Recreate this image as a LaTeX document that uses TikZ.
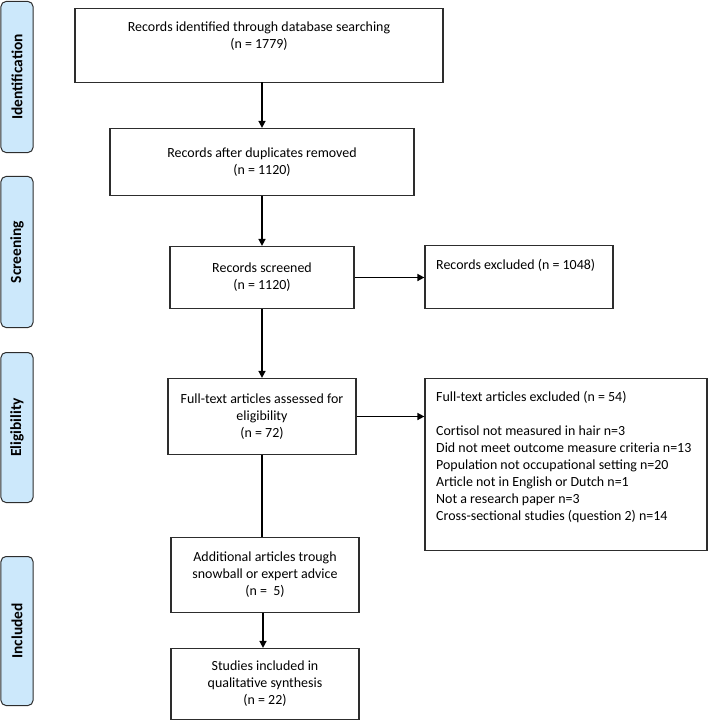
\documentclass[tikz,border=0pt]{standalone}
\usepackage{fontspec}
\setmainfont{Carlito}
\usetikzlibrary{arrows.meta}
\definecolor{sidefill}{RGB}{204,232,251}
\definecolor{edge}{RGB}{45,45,45}
\begin{document}
\begin{tikzpicture}[x=1bp,y=-1bp,
  box/.style={draw=edge,line width=1.2bp,rectangle,inner sep=0pt,font=\fontsize{14}{17}\selectfont,align=center},
  txt/.style={inner sep=0pt,font=\fontsize{14}{17}\selectfont},
  side/.style={draw=edge,fill=sidefill,line width=1bp,rounded corners=5bp,minimum width=32bp,inner sep=0pt},
  sidetxt/.style={rotate=90,font=\fontsize{15.5}{17}\selectfont\bfseries,inner sep=0pt},
  arr/.style={line width=1.5bp,-{Triangle[length=7bp,width=7bp]}},
  ln/.style={line width=1.5bp}]
\useasboundingbox (0,0) rectangle (709,724);
% side labels
\node[side,minimum height=151bp] (s1) at (17,77) {};
\node[sidetxt] (s1t) at (s1.center) {Identification};
\node[side,minimum height=151bp] (s2) at (17,252) {};
\node[sidetxt] (s2t) at (s2.center) {Screening};
\node[side,minimum height=150bp] (s3) at (17,427.5) {};
\node[sidetxt] (s3t) at (s3.center) {Eligibility};
\node[side,minimum height=149bp] (s4) at (17,631) {};
\node[sidetxt] (s4t) at (s4.center) {Included};
% boxes
\node[box,minimum width=368bp,minimum height=74bp] (b1) at (259,45.5) {};
\node[txt,align=center] (b1t) at (259,36) {Records identified through database searching\\(n = 1779)};
\node[box,minimum width=304bp,minimum height=67bp] (b2) at (262,162) {Records after duplicates removed\\(n = 1120)};
\node[box,minimum width=184bp,minimum height=62bp] (b3) at (262,277.5) {Records screened\\(n = 1120)};
\node[box,minimum width=188bp,minimum height=63bp] (e1) at (519,277) {};
\node[txt,anchor=west] (e1t) at (436,265) {Records excluded (n = 1048)};
\node[box,minimum width=188bp,minimum height=76bp] (b4) at (262,416.5) {Full-text articles assessed for\\eligibility\\(n = 72)};
\node[box,minimum width=282bp,minimum height=172bp] (e2) at (566,464.5) {};
\node[txt,anchor=west,align=left] (e2t) at (436,457) {Full-text articles excluded (n = 54)\\[17pt]Cortisol not measured in hair n=3\\Did not meet outcome measure criteria n=13\\Population not occupational setting n=20\\Article not in English or Dutch n=1\\Not a research paper n=3\\Cross-sectional studies (question 2) n=14};
\node[box,minimum width=188bp,minimum height=75bp] (b5) at (265,575) {Additional articles trough\\snowball or expert advice\\(n =\ \ 5)};
\node[box,minimum width=188bp,minimum height=71bp] (b6) at (265,684) {Studies included in\\qualitative synthesis\\(n = 22)};
% connectors
\coordinate (c1) at (262,82.5);
\draw[arr] (c1) -- (c1 |- b2.north);
\draw[arr] (b2.south -| c1) -- (b3.north);
\draw[arr] (b3.east) -- (e1.west |- b3.east);
\draw[arr] (b3.south) -- (b3.south |- b4.north);
\draw[arr] (b4.east) -- (b4.east -| e2.west);
\draw[ln] (b4.south) -- (b4.south |- b5.north);
\coordinate (c5) at (263,612.5);
\draw[arr] (c5) -- (c5 |- b6.north);
\end{tikzpicture}
\end{document}
